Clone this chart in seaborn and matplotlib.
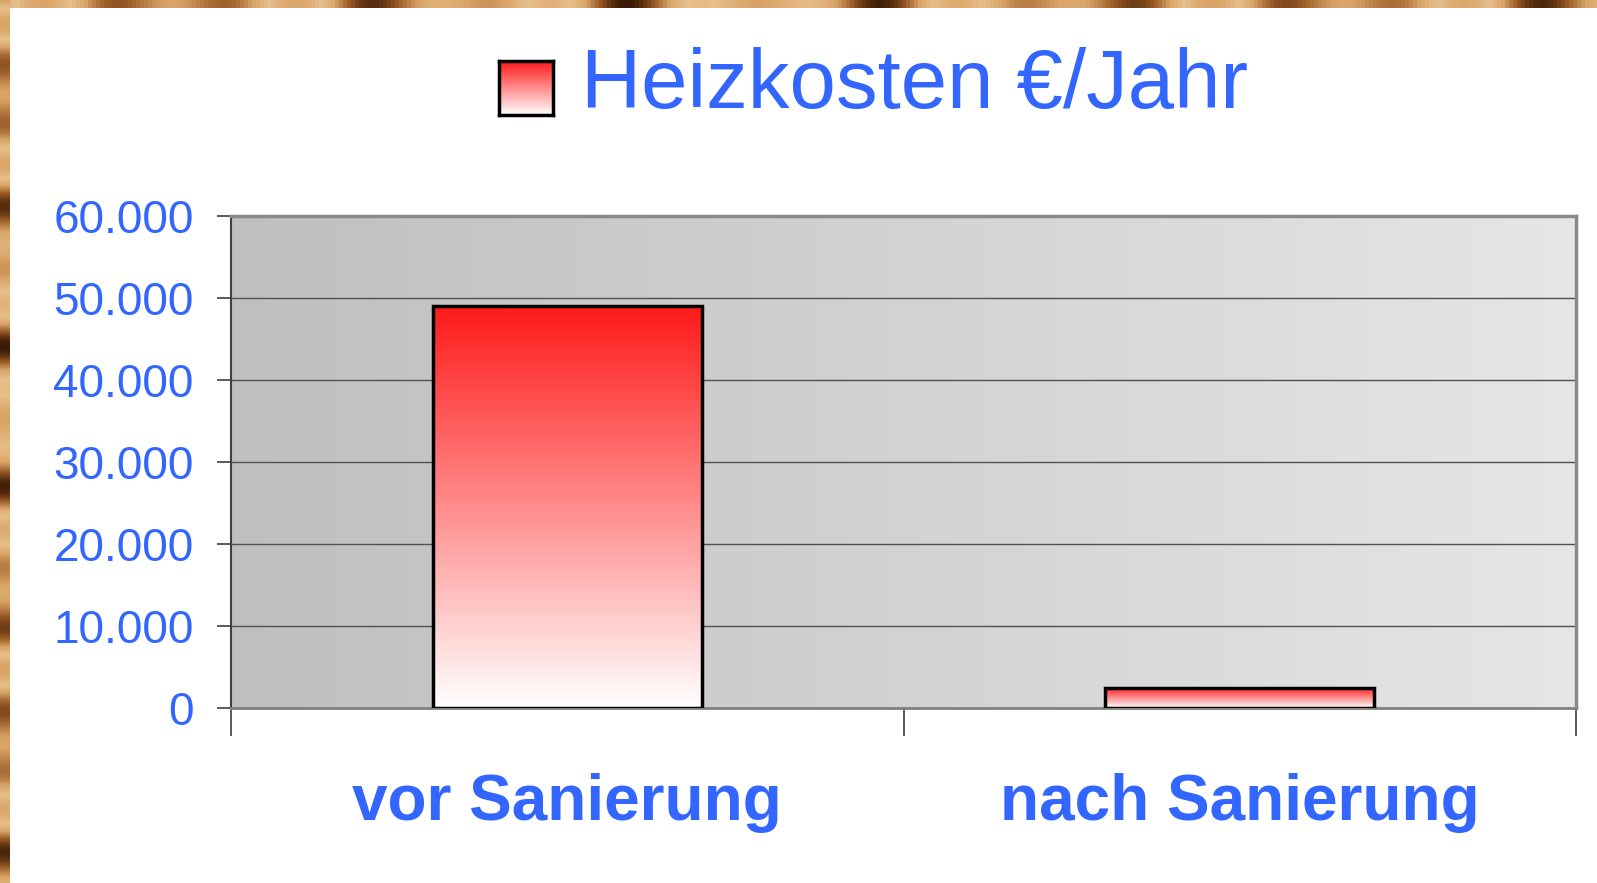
import numpy as np
import pandas as pd
import matplotlib
matplotlib.use("Agg")
import matplotlib.pyplot as plt
import seaborn as sns
from matplotlib.colors import LinearSegmentedColormap
from matplotlib.ticker import FuncFormatter, FixedLocator

# ---- data ----
categories = ["vor Sanierung", "nach Sanierung"]
values = [49000, 2500]
series_name = "Heizkosten €/Jahr"
y_ticks = [0, 10000, 20000, 30000, 40000, 50000, 60000]

BLUE = "#3366ff"

sns.set_theme(style="white")
plt.rcParams['font.family'] = ['Liberation Sans', 'DejaVu Sans']

W, H = 1597, 883
fig = plt.figure(figsize=(W / 100, H / 100), dpi=100)
fig.patch.set_facecolor("white")

# wood-like border (decoration)
def wood_strip(rect, horizontal):
    wax = fig.add_axes(rect)
    n = 400
    t = np.linspace(0, 1, n)
    base = 0.5 + 0.5 * np.sin(t * 60) * np.sin(t * 17 + 1.3)
    img = base[None, :] if horizontal else base[:, None]
    cmap = LinearSegmentedColormap.from_list("wood", ["#3a1a05", "#9a5a25", "#d9a467", "#e8c08a", "#d9a467"])
    wax.imshow(img, aspect="auto", cmap=cmap, extent=[0, 1, 0, 1])
    wax.set_axis_off()

wood_strip([0, (H - 8) / H, 1, 8 / H], True)
wood_strip([0, 0, 10 / W, 1], False)

# main axes
left, right, top, bottom = 231, 1576, 216, 708
ax = fig.add_axes([left / W, (H - bottom) / H, (right - left) / W, (bottom - top) / H])

df = pd.DataFrame({"cat": categories, "val": values})
sns.barplot(data=df, x="cat", y="val", width=0.4, ax=ax, color="white",
            edgecolor="black", linewidth=2.5, zorder=3)

ax.set_xlim(-0.5, 1.5)
ax.set_ylim(0, 60000)

# background gradient
bg = LinearSegmentedColormap.from_list("bg", ["#bfbfbf", "#e6e6e6"])
ax.imshow(np.linspace(0, 1, 256)[None, :], aspect="auto", cmap=bg,
          extent=[0, 1, 0, 1], transform=ax.transAxes, zorder=0)

# red gradient bars
red = LinearSegmentedColormap.from_list("red", ["#ffffff", "#ff1a1a"])
for p in ax.patches:
    x0, y0 = p.get_x(), p.get_y()
    w, h = p.get_width(), p.get_height()
    im = ax.imshow(np.linspace(0, 1, 256)[:, None], aspect="auto", cmap=red,
                   origin="lower", extent=[x0, x0 + w, y0, y0 + h], zorder=3.5)
    im.set_clip_path(p)
    p.set_facecolor("none")
    p.set_zorder(4)
ax.set_xlim(-0.5, 1.5)
ax.set_ylim(0, 60000)

# grid
ax.set_yticks(y_ticks)
ax.yaxis.set_major_formatter(FuncFormatter(lambda v, _: f"{int(v):,}".replace(",", ".")))
for v in y_ticks[1:-1]:
    ax.axhline(v, color="#505050", lw=1.0, zorder=1)

for s in ["top", "right", "bottom"]:
    ax.spines[s].set_color("#8a8a8a")
    ax.spines[s].set_linewidth(2.5)
ax.spines["left"].set_color("#404040")
ax.spines["left"].set_linewidth(1.5)
ax.spines["bottom"].set_color("#808080")
ax.spines["bottom"].set_linewidth(2)

ax.tick_params(axis="y", which="major", length=10, width=1.2, color="#404040",
               labelsize=33, labelcolor=BLUE, pad=17, left=True)
ax.set_xticks([0, 1])
ax.set_xticklabels(categories, fontsize=46, fontweight="bold", color=BLUE)
ax.xaxis.set_minor_locator(FixedLocator([-0.5, 0.5, 1.5]))
ax.tick_params(axis="x", which="major", length=0, pad=47)
ax.tick_params(axis="x", which="minor", length=20, width=1.2, color="#404040", bottom=True)
ax.set_xlabel("")
ax.set_ylabel("")

# legend-like title
lax = fig.add_axes([499 / W, (H - 115) / H, 54 / W, 54 / H])
lax.imshow(np.linspace(0, 1, 256)[:, None], aspect="auto", cmap=red, origin="lower",
           extent=[0, 1, 0, 1])
lax.set_xticks([]); lax.set_yticks([])
for s in lax.spines.values():
    s.set_color("black"); s.set_linewidth(2.5)
fig.text(581 / W, (H - 108) / H, series_name, fontsize=60, color=BLUE, va="baseline", ha="left")

fig.savefig("out.png", dpi=100)
